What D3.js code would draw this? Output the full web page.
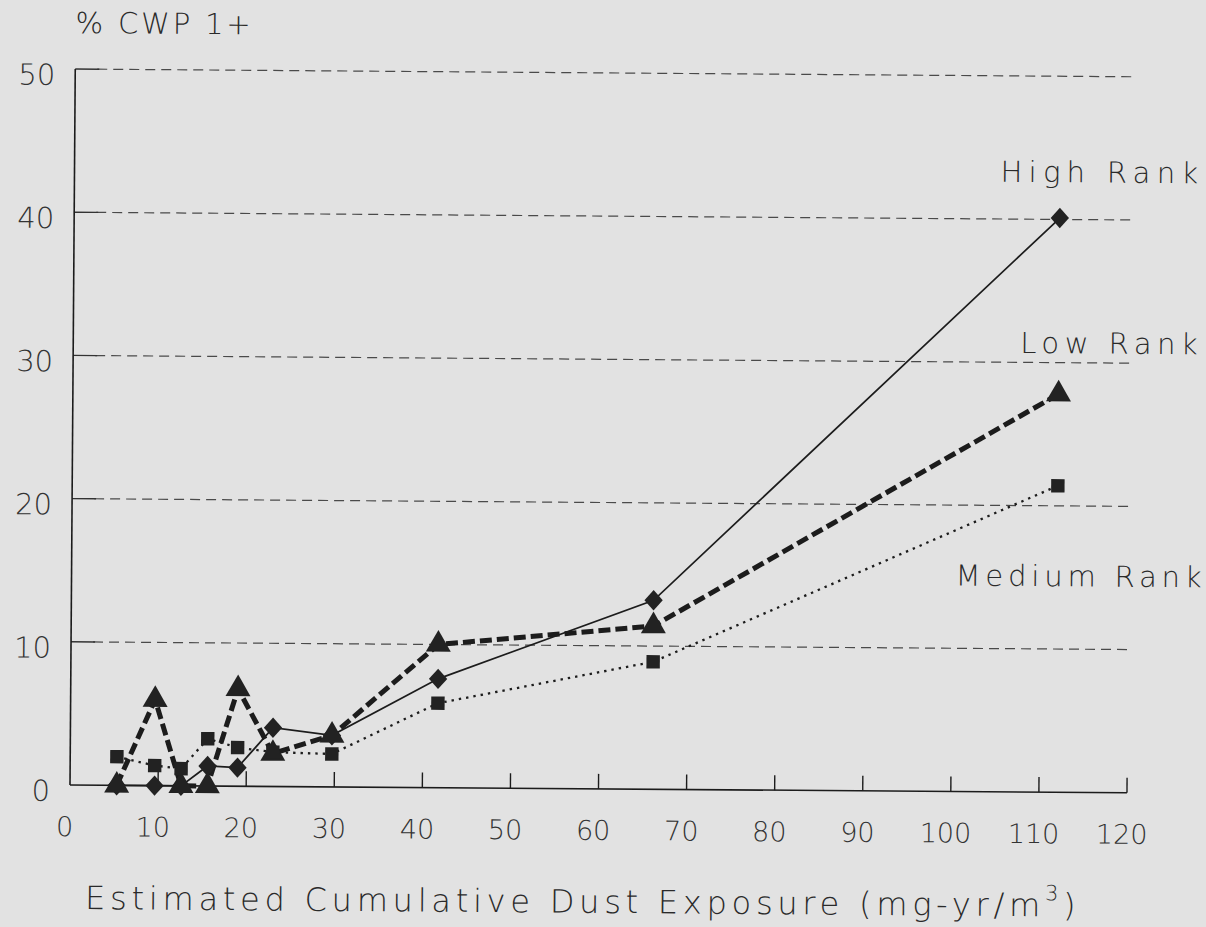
<!DOCTYPE html>
<html>
<head>
<meta charset="utf-8">
<script src="https://cdn.jsdelivr.net/npm/d3@7"></script>
<style>
  body { margin: 0; background: #e2e2e2; }
  svg { display: block; }
</style>
</head>
<body>
<div id="container"></div>
<script>
let width = 1206;
let height = 927;

// values
let exposure = [5.3, 9.6, 12.6, 15.6, 19.0, 23.0, 29.7, 41.7, 66.1, 111.9];
let highRank = [0, 0, 0, 1.4, 1.3, 4.1, 3.6, 7.6, 13.2, 40.1];
let lowRank = [0, 6.0, 0, 0, 6.8, 2.3, 3.6, 10.0, 11.4, 27.8];
let mediumRank = [2.0, 1.4, 1.2, 3.3, 2.7, 2.4, 2.3, 5.9, 8.9, 21.4];

let xTicks = [0, 10, 20, 30, 40, 50, 60, 70, 80, 90, 100, 110, 120];
let yTicks = [0, 10, 20, 30, 40, 50];

let ink = '#1c1c1c';
let font = '"DejaVu Sans", sans-serif';

let svg = d3.select('#container')
    .append('svg')
    .attr('width', width)
    .attr('height', height);

svg.append('rect')
    .attr('width', width)
    .attr('height', height)
    .attr('fill', '#e2e2e2');

// the scan is turned a little clockwise, so the whole plot is too
let g = svg.append('g')
    .attr('transform', 'translate(70,785) rotate(0.42)');

let x = d3.scaleLinear().domain([0, 120]).range([0, 1057]);
let y = d3.scaleLinear().domain([0, 50]).range([0, -716]);

// dashed grid lines
g.selectAll('.grid')
    .data(yTicks.filter(d => d > 0))
    .enter()
    .append('line')
    .attr('class', 'grid')
    .attr('x1', 22)
    .attr('x2', x(120) + 3)
    .attr('y1', d => y(d))
    .attr('y2', d => y(d))
    .attr('stroke', '#4a4a4a')
    .attr('stroke-width', 1.2)
    .attr('stroke-dasharray', '10,6');

// short solid tick at the start of each grid line
g.selectAll('.ytick')
    .data(yTicks.filter(d => d > 0))
    .enter()
    .append('line')
    .attr('x1', 0)
    .attr('x2', 24)
    .attr('y1', d => y(d))
    .attr('y2', d => y(d))
    .attr('stroke', '#333')
    .attr('stroke-width', 1.4);

// axes
g.append('line')
    .attr('x1', 0).attr('x2', 0)
    .attr('y1', 0).attr('y2', y(50))
    .attr('stroke', ink)
    .attr('stroke-width', 1.6);

g.append('line')
    .attr('x1', 0).attr('x2', x(120))
    .attr('y1', 0).attr('y2', 0)
    .attr('stroke', ink)
    .attr('stroke-width', 1.6);

g.selectAll('.xtick')
    .data(xTicks.filter(d => d > 0))
    .enter()
    .append('line')
    .attr('x1', d => x(d))
    .attr('x2', d => x(d))
    .attr('y1', 0)
    .attr('y2', -15)
    .attr('stroke', ink)
    .attr('stroke-width', 1.4);

// tick labels
g.selectAll('.xlabel')
    .data(xTicks)
    .enter()
    .append('text')
    .attr('x', d => x(d) - 5)
    .attr('y', 51)
    .attr('text-anchor', 'middle')
    .attr('font-family', font)
    .attr('font-weight', 200)
    .attr('font-size', 27)
    .attr('fill', '#333')
    .text(d => d);

g.selectAll('.ylabel')
    .data(yTicks)
    .enter()
    .append('text')
    .attr('x', -20)
    .attr('y', d => y(d) + 16)
    .attr('text-anchor', 'end')
    .attr('font-family', font)
    .attr('font-weight', 200)
    .attr('font-size', 29)
    .attr('fill', '#333')
    .text(d => d);

// stretch a label to the width it has in the scan
function label(str, x0, x1, yy, size) {
    let t = g.append('text')
        .attr('x', x0)
        .attr('y', yy)
        .attr('font-family', font)
        .attr('font-weight', 200)
        .attr('font-size', size)
        .attr('fill', '#2a2a2a')
        .text(str);
    let len = t.node().getComputedTextLength();
    t.attr('letter-spacing', (x1 - x0 - len) / str.length);
    return t;
}

label('% CWP 1+', 0, 178, -752, 29);
label('High Rank', 926, 1130, -610, 29);
label('Low Rank', 947, 1130, -439, 29);
label('Medium Rank', 884, 1135, -206, 29);

// x axis title with superscript
let title = g.append('text')
    .attr('x', 16)
    .attr('y', 124)
    .attr('font-family', font)
    .attr('font-weight', 200)
    .attr('font-size', 32)
    .attr('fill', '#2a2a2a');
title.append('tspan').text('Estimated Cumulative Dust Exposure (mg-yr/m');
title.append('tspan').attr('dy', -16).attr('font-size', 21).text('3');
title.append('tspan').attr('dy', 16).text(')');
let tLen = title.node().getComputedTextLength();
title.attr('letter-spacing', (1000 - tLen) / 46);

// series
let series = [
    { name: 'high', values: highRank, dash: null, width: 1.7 },
    { name: 'low', values: lowRank, dash: '12,5', width: 5 },
    { name: 'medium', values: mediumRank, dash: '2.4,5', width: 2.3 }
];

let line = d3.line()
    .x((d, i) => x(exposure[i]))
    .y(d => y(d));

g.selectAll('.series')
    .data(series)
    .enter()
    .append('path')
    .attr('class', 'series')
    .attr('d', d => line(d.values))
    .attr('fill', 'none')
    .attr('stroke', ink)
    .attr('stroke-width', d => d.width)
    .attr('stroke-dasharray', d => d.dash);

// a diamond a bit wider than d3's own
let wideDiamond = {
    draw(context, size) {
        let h = Math.sqrt(size) * 0.72;
        let w = h * 0.9;
        context.moveTo(0, -h);
        context.lineTo(w, 0);
        context.lineTo(0, h);
        context.lineTo(-w, 0);
        context.closePath();
    }
};

let markers = [
    { values: highRank, type: wideDiamond, size: 200 },
    { values: lowRank, type: d3.symbolTriangle, size: 270 },
    { values: mediumRank, type: d3.symbolSquare, size: 180 }
];

markers.forEach(m => {
    g.selectAll(null)
        .data(m.values)
        .enter()
        .append('path')
        .attr('transform', (d, i) => 'translate(' + x(exposure[i]) + ',' + y(d) + ')')
        .attr('d', d3.symbol().type(m.type).size(m.size))
        .attr('fill', '#222');
});
</script>
</body>
</html>
